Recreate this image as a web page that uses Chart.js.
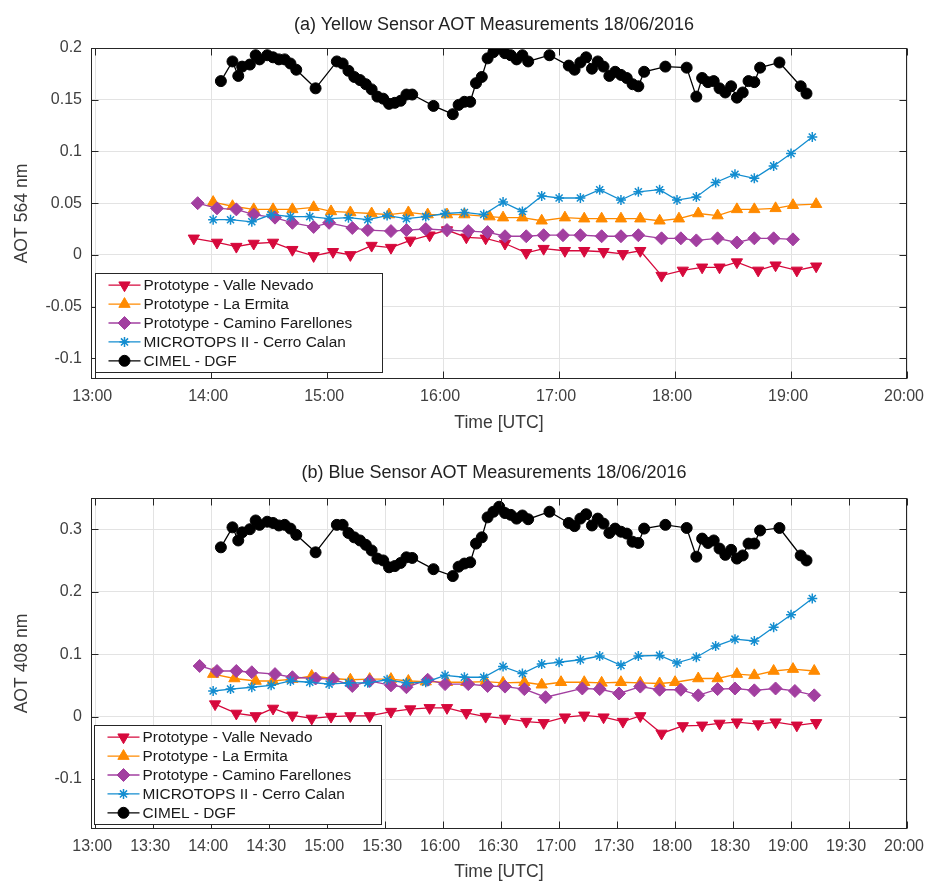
<!DOCTYPE html>
<html>
<head>
<meta charset="utf-8">
<title>AOT 18/06/2016</title>
<script src="https://cdn.jsdelivr.net/npm/chart.js@4.4.1/dist/chart.umd.min.js"></script>
<style>
  body { margin: 0; background: #fff; }
  #fig { position: relative; width: 927px; height: 882px; font-family: "Liberation Sans", Arial, Helvetica, sans-serif; }
  .panel { position: absolute; left: 0; width: 927px; height: 441px; }
  .titulo { position: absolute; left: 91px; width: 806px; text-align: center; font-size: 18px; line-height: 20px; color: #222; }
</style>
</head>
<body>
<div id="fig">
  <div class="panel" style="top:0"><canvas id="grafA" width="927" height="441"></canvas></div>
  <div class="titulo" style="top:14px">(a) Yellow Sensor AOT Measurements 18/06/2016</div>
  <div class="panel" style="top:441px"><canvas id="grafB" width="927" height="441"></canvas></div>
  <div class="titulo" style="top:462px">(b) Blue Sensor AOT Measurements 18/06/2016</div>
</div>
<script>
const d = document;

//Ticks de los ejes
const xTicksA = ["13:00", "14:00", "15:00", "16:00", "17:00", "18:00", "19:00", "20:00"];
const xTicksB = ["13:00", "13:30", "14:00", "14:30", "15:00", "15:30", "16:00", "16:30",
  "17:00", "17:30", "18:00", "18:30", "19:00", "19:30", "20:00"];
const yTicksA = [-0.1, -0.05, 0, 0.05, 0.1, 0.15, 0.2];
const yTicksB = [-0.1, 0, 0.1, 0.2, 0.3];

//Prototype - Valle Nevado
const vnTimesA = ["13:51", "14:03", "14:13", "14:22", "14:32", "14:42", "14:53", "15:03", "15:12", "15:23", "15:33",
  "15:43", "15:53", "16:02", "16:12", "16:22", "16:32", "16:43", "16:52", "17:03", "17:13", "17:23", "17:33",
  "17:42", "17:53", "18:04", "18:14", "18:23", "18:32", "18:43", "18:52", "19:03", "19:13"];
const vnAotA = [0.016, 0.012, 0.008, 0.011, 0.012, 0.005, -0.001, 0.003, 0.000, 0.009, 0.007,
  0.014, 0.019, 0.024, 0.017, 0.016, 0.011, 0.002, 0.006, 0.004, 0.004, 0.003, 0.001,
  0.004, -0.020, -0.015, -0.012, -0.012, -0.007, -0.015, -0.010, -0.015, -0.011];
const vnTimesB = ["14:02", "14:13", "14:23", "14:32", "14:42", "14:52", "15:02", "15:12", "15:22", "15:33", "15:43",
  "15:53", "16:02", "16:12", "16:22", "16:32", "16:43", "16:52", "17:03", "17:13", "17:23", "17:33",
  "17:42", "17:53", "18:04", "18:14", "18:23", "18:32", "18:43", "18:52", "19:03", "19:13"];
const vnAotB = [0.020, 0.005, 0.001, 0.013, 0.002, -0.003, 0.000, 0.001, 0.001, 0.008, 0.012,
  0.014, 0.014, 0.006, 0.000, -0.003, -0.008, -0.010, -0.001, 0.002, -0.001, -0.008,
  0.001, -0.027, -0.015, -0.014, -0.011, -0.009, -0.012, -0.009, -0.014, -0.010];

//Prototype - La Ermita
const leTimesA = ["14:01", "14:11", "14:22", "14:32", "14:42", "14:53", "15:02", "15:12", "15:23", "15:32", "15:42",
  "15:52", "16:02", "16:11", "16:24", "16:31", "16:41", "16:51", "17:03", "17:13", "17:22", "17:32",
  "17:42", "17:52", "18:02", "18:12", "18:22", "18:32", "18:41", "18:52", "19:01", "19:13"];
const leAotA = [0.051, 0.047, 0.044, 0.044, 0.044, 0.046, 0.042, 0.041, 0.040, 0.039, 0.041,
  0.039, 0.039, 0.039, 0.037, 0.036, 0.036, 0.033, 0.036, 0.035, 0.035, 0.035,
  0.035, 0.033, 0.035, 0.040, 0.038, 0.044, 0.044, 0.045, 0.048, 0.049];
const leTimesB = ["14:01", "14:12", "14:23", "14:32", "14:42", "14:52", "15:03", "15:12", "15:22", "15:33", "15:42",
  "15:51", "16:02", "16:12", "16:22", "16:31", "16:42", "16:51", "17:01", "17:13", "17:22", "17:32",
  "17:42", "17:52", "18:00", "18:12", "18:22", "18:32", "18:41", "18:51", "19:01", "19:12"];
const leAotB = [0.068, 0.061, 0.057, 0.057, 0.060, 0.065, 0.061, 0.059, 0.060, 0.060, 0.057,
  0.056, 0.055, 0.055, 0.056, 0.054, 0.055, 0.051, 0.055, 0.055, 0.054, 0.055,
  0.054, 0.053, 0.055, 0.061, 0.061, 0.068, 0.066, 0.073, 0.076, 0.073];

//Prototype - Camino Farellones
const cfTimesA = ["13:53", "14:03", "14:13", "14:22", "14:33", "14:42", "14:53", "15:01", "15:13", "15:21", "15:33",
  "15:41", "15:51", "16:02", "16:13", "16:23", "16:32", "16:43", "16:52", "17:02", "17:11", "17:22",
  "17:32", "17:41", "17:53", "18:03", "18:11", "18:22", "18:32", "18:41", "18:51", "19:01"];
const cfAotA = [0.050, 0.045, 0.044, 0.039, 0.036, 0.031, 0.027, 0.031, 0.026, 0.024, 0.023,
  0.024, 0.025, 0.024, 0.023, 0.022, 0.018, 0.018, 0.019, 0.019, 0.019, 0.018,
  0.018, 0.019, 0.016, 0.016, 0.014, 0.016, 0.012, 0.016, 0.016, 0.015];
const cfTimesB = ["13:54", "14:03", "14:13", "14:21", "14:33", "14:42", "14:54", "15:03", "15:13", "15:22", "15:33",
  "15:41", "15:52", "16:01", "16:13", "16:23", "16:32", "16:42", "16:53", "17:12", "17:21", "17:31",
  "17:42", "17:52", "18:03", "18:12", "18:22", "18:31", "18:41", "18:52", "19:02", "19:12"];
const cfAotB = [0.081, 0.073, 0.073, 0.071, 0.068, 0.063, 0.061, 0.060, 0.049, 0.057, 0.050,
  0.047, 0.059, 0.052, 0.052, 0.049, 0.048, 0.044, 0.031, 0.045, 0.044, 0.037,
  0.048, 0.043, 0.043, 0.034, 0.044, 0.045, 0.042, 0.045, 0.041, 0.034];

//MICROTOPS II - Cerro Calan (mismos horarios en ambos paneles)
const mtTimes = ["14:01", "14:10", "14:21", "14:31", "14:41", "14:51", "15:01", "15:11", "15:21", "15:31", "15:41",
  "15:51", "16:01", "16:11", "16:21", "16:31", "16:41", "16:51", "17:00", "17:11", "17:21", "17:32",
  "17:41", "17:52", "18:01", "18:11", "18:21", "18:31", "18:41", "18:51", "19:00", "19:11"];
const mtAotA = [0.034, 0.034, 0.032, 0.039, 0.037, 0.037, 0.035, 0.036, 0.034, 0.038, 0.035,
  0.037, 0.040, 0.041, 0.039, 0.051, 0.042, 0.057, 0.055, 0.055, 0.063, 0.053,
  0.061, 0.063, 0.053, 0.056, 0.070, 0.078, 0.074, 0.086, 0.098, 0.114];
const mtAotB = [0.041, 0.044, 0.047, 0.050, 0.057, 0.055, 0.052, 0.054, 0.054, 0.059, 0.054,
  0.055, 0.066, 0.063, 0.063, 0.080, 0.069, 0.084, 0.087, 0.091, 0.097, 0.082,
  0.097, 0.098, 0.086, 0.095, 0.113, 0.124, 0.121, 0.143, 0.163, 0.189];

//CIMEL - DGF
const cimelTimes = ["14:05", "14:11", "14:14", "14:16", "14:20", "14:23", "14:25", "14:29", "14:32", "14:35",
  "14:38", "14:41", "14:44", "14:54", "15:05", "15:08", "15:11", "15:14", "15:17", "15:20",
  "15:23", "15:26", "15:29", "15:32", "15:35", "15:38", "15:41", "15:44", "15:55", "16:05",
  "16:08", "16:11", "16:14", "16:17", "16:20", "16:23", "16:26", "16:29", "16:32", "16:35",
  "16:38", "16:41", "16:44", "16:55", "17:05", "17:08", "17:11", "17:14", "17:17", "17:20",
  "17:23", "17:26", "17:29", "17:32", "17:35", "17:38", "17:41", "17:44", "17:55", "18:06",
  "18:11", "18:14", "18:17", "18:20", "18:23", "18:26", "18:29", "18:32", "18:35", "18:38",
  "18:41", "18:44", "18:54", "19:05", "19:08"];
const cimelAotA = [0.168, 0.187, 0.173, 0.182, 0.184, 0.193, 0.189, 0.193, 0.191, 0.189,
  0.189, 0.185, 0.179, 0.161, 0.187, 0.185, 0.178, 0.172, 0.169, 0.165,
  0.160, 0.153, 0.151, 0.146, 0.147, 0.149, 0.155, 0.155, 0.144, 0.136,
  0.145, 0.148, 0.148, 0.166, 0.172, 0.190, 0.196, 0.200, 0.195, 0.193,
  0.189, 0.193, 0.187, 0.193, 0.183, 0.179, 0.186, 0.191, 0.180, 0.187,
  0.182, 0.173, 0.177, 0.174, 0.171, 0.165, 0.163, 0.177, 0.182, 0.181,
  0.153, 0.171, 0.167, 0.168, 0.161, 0.157, 0.163, 0.152, 0.157, 0.168,
  0.167, 0.181, 0.186, 0.163, 0.156];
const cimelAotB = [0.271, 0.303, 0.282, 0.295, 0.300, 0.314, 0.307, 0.312, 0.310, 0.306,
  0.307, 0.301, 0.291, 0.263, 0.307, 0.307, 0.294, 0.287, 0.282, 0.275,
  0.266, 0.253, 0.250, 0.239, 0.241, 0.246, 0.255, 0.254, 0.236, 0.225,
  0.240, 0.245, 0.247, 0.277, 0.287, 0.319, 0.328, 0.336, 0.326, 0.323,
  0.317, 0.322, 0.316, 0.328, 0.310, 0.305, 0.317, 0.324, 0.306, 0.317,
  0.309, 0.294, 0.301, 0.296, 0.293, 0.280, 0.278, 0.301, 0.307, 0.302,
  0.256, 0.285, 0.278, 0.282, 0.269, 0.259, 0.267, 0.253, 0.258, 0.277,
  0.277, 0.298, 0.302, 0.258, 0.250];

//Funciones de tiempo
const aMin = (hhmm) => {
  let [h, m] = hhmm.split(":");
  return parseInt(h) * 60 + parseInt(m);
};
const aHora = (min) => {
  let h = Math.floor(min / 60), m = Math.round(min % 60);
  return `${h}:${String(m).padStart(2, "0")}`;
};
const puntos = (tiempos, valores) => tiempos.map((t, i) => ({ x: aMin(t), y: valores[i] }));

const fuente = '"Liberation Sans", Arial, Helvetica, sans-serif';

//Estilos de cada serie (orden = orden de dibujo, el menor queda arriba)
const estilos = [
  { label: "Prototype - Valle Nevado", color: "#d6093c", pointStyle: "triangle", rotation: 180, radius: 6.5, order: 5 },
  { label: "Prototype - La Ermita", color: "#ff8a00", pointStyle: "triangle", rotation: 0, radius: 6.5, order: 4 },
  { label: "Prototype - Camino Farellones", color: "#a23fa0", pointStyle: "rectRot", rotation: 0, radius: 6.5, order: 3 },
  { label: "MICROTOPS II - Cerro Calan", color: "#138dd0", pointStyle: "star", rotation: 0, radius: 5, order: 2 },
  { label: "CIMEL - DGF", color: "#000000", pointStyle: "circle", rotation: 0, radius: 5.5, order: 1 }
];

const serie = (e, data) => ({
  label: e.label,
  data: data,
  borderColor: e.color,
  backgroundColor: e.color,
  borderWidth: 1.3,
  tension: 0,
  pointStyle: e.pointStyle,
  pointRotation: e.rotation,
  pointRadius: e.radius,
  pointHoverRadius: e.radius,
  pointBackgroundColor: e.color,
  pointBorderColor: e.color,
  pointBorderWidth: e.pointStyle === "star" ? 1.5 : 1,
  order: e.order
});

//Caja de ejes con ticks hacia adentro (estilo MATLAB)
const cajaEjes = {
  id: "cajaEjes",
  afterDatasetsDraw(chart) {
    const { ctx, chartArea: a, scales } = chart;
    const L = Math.round(a.left) + 0.5, R = Math.round(a.right) - 0.5,
      T = Math.round(a.top) + 0.5, B = Math.round(a.bottom) - 0.5;
    ctx.save();
    ctx.strokeStyle = "#262626";
    ctx.lineWidth = 1;
    ctx.beginPath();
    scales.x.ticks.forEach((t) => {
      let px = Math.round(scales.x.getPixelForValue(t.value)) + 0.5;
      ctx.moveTo(px, B); ctx.lineTo(px, B - 7);
      ctx.moveTo(px, T); ctx.lineTo(px, T + 7);
    });
    scales.y.ticks.forEach((t) => {
      let py = Math.round(scales.y.getPixelForValue(t.value)) + 0.5;
      ctx.moveTo(L, py); ctx.lineTo(L + 7, py);
      ctx.moveTo(R, py); ctx.lineTo(R - 7, py);
    });
    ctx.stroke();
    ctx.strokeRect(L, T, R - L, B - T);
    ctx.restore();
  }
};

//Leyenda dentro del area (abajo a la izquierda)
const leyenda = {
  id: "leyenda",
  afterDatasetsDraw(chart, args, opts) {
    const { ctx, chartArea: a } = chart;
    const w = 287, h = 99;
    const x0 = Math.round(a.left + opts.dx) + 0.5, y0 = Math.round(a.bottom - opts.dy - h) + 0.5;
    ctx.save();
    ctx.fillStyle = "#fff";
    ctx.fillRect(x0, y0, w, h);
    ctx.strokeStyle = "#262626";
    ctx.lineWidth = 1;
    ctx.strokeRect(x0, y0, w, h);
    chart.data.datasets.forEach((ds, i) => {
      let yy = y0 + 11.7 + i * 18.9;
      ctx.strokeStyle = ds.borderColor;
      ctx.fillStyle = ds.borderColor;
      ctx.lineWidth = 1.3;
      ctx.beginPath();
      ctx.moveTo(x0 + 13, yy);
      ctx.lineTo(x0 + 45, yy);
      ctx.stroke();
      ctx.lineWidth = ds.pointBorderWidth;
      Chart.helpers.drawPoint(ctx, {
        pointStyle: ds.pointStyle,
        rotation: ds.pointRotation,
        radius: ds.pointRadius,
        borderWidth: ds.pointBorderWidth
      }, x0 + 29, yy);
      ctx.fillStyle = "#1a1a1a";
      ctx.font = `15.4px ${fuente}`;
      ctx.textAlign = "left";
      ctx.textBaseline = "middle";
      ctx.fillText(ds.label, x0 + 48, yy + 0.5);
    });
    ctx.restore();
  }
};

function graficar(id, conf) {
  const ctx = d.getElementById(id);
  return new Chart(ctx, {
    type: "line",
    data: {
      datasets: conf.series.map((s, i) => serie(estilos[i], s))
    },
    plugins: [cajaEjes, leyenda],
    options: {
      responsive: false,
      devicePixelRatio: 1,
      animation: false,
      events: [],
      layout: { autoPadding: false, padding: { top: conf.top, right: 20, left: 0, bottom: 0 } },
      plugins: {
        legend: { display: false },
        tooltip: { enabled: false },
        title: { display: false },
        leyenda: { dx: conf.legDx, dy: conf.legDy }
      },
      scales: {
        x: {
          type: "linear",
          min: 777.8,
          max: 1200,
          afterBuildTicks: (s) => { s.ticks = conf.xTicks.map((t) => ({ value: aMin(t) })); },
          afterFit: (s) => { s.height = conf.xHeight; s.paddingLeft = 0; s.paddingRight = 0; },
          ticks: {
            callback: (v) => aHora(v),
            font: { family: fuente, size: 16 },
            color: "#404040",
            padding: 8,
            labelOffset: -3,
            autoSkip: false,
            maxRotation: 0,
            minRotation: 0
          },
          grid: { color: "#e3e3e3", lineWidth: 1, drawTicks: false },
          border: { display: false },
          title: {
            display: true,
            text: "Time [UTC]",
            font: { family: fuente, size: 17.6 },
            color: "#3a3a3a",
            padding: { top: 0, bottom: conf.xTitlePad }
          }
        },
        y: {
          type: "linear",
          min: conf.yMin,
          max: conf.yMax,
          afterBuildTicks: (s) => { s.ticks = conf.yTicks.map((v) => ({ value: v })); },
          afterFit: (s) => { s.width = 91; s.paddingTop = 0; s.paddingBottom = 0; },
          ticks: {
            callback: (v) => String(Number(v.toFixed(2))),
            font: { family: fuente, size: 16 },
            color: "#404040",
            padding: 9,
            autoSkip: false
          },
          grid: { color: "#e3e3e3", lineWidth: 1, drawTicks: false },
          border: { display: false },
          title: {
            display: true,
            text: conf.yLabel,
            font: { family: fuente, size: 17.6 },
            color: "#3a3a3a",
            padding: { top: 12, bottom: 0 }
          }
        }
      }
    }
  });
}

//Panel (a) sensor amarillo
graficar("grafA", {
  series: [
    puntos(vnTimesA, vnAotA),
    puntos(leTimesA, leAotA),
    puntos(cfTimesA, cfAotA),
    puntos(mtTimes, mtAotA),
    puntos(cimelTimes, cimelAotA)
  ],
  xTicks: xTicksA, yTicks: yTicksA,
  yMin: -0.12, yMax: 0.2,
  yLabel: "AOT 564 nm",
  top: 48, xHeight: 62, xTitlePad: 7,
  legDx: 4, legDy: 7
});

//Panel (b) sensor azul
graficar("grafB", {
  series: [
    puntos(vnTimesB, vnAotB),
    puntos(leTimesB, leAotB),
    puntos(cfTimesB, cfAotB),
    puntos(mtTimes, mtAotB),
    puntos(cimelTimes, cimelAotB)
  ],
  xTicks: xTicksB, yTicks: yTicksB,
  yMin: -0.18, yMax: 0.35,
  yLabel: "AOT 408 nm",
  top: 57, xHeight: 53, xTitlePad: -1,
  legDx: 2.5, legDy: 5.5
});
</script>
</body>
</html>
